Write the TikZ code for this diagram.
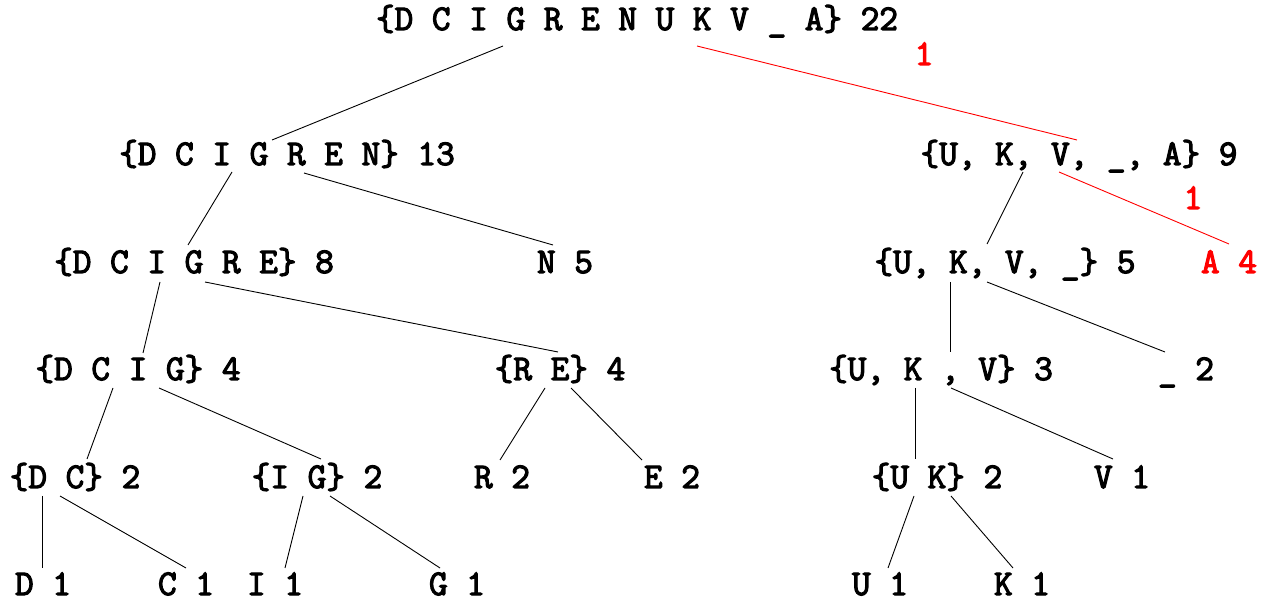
\documentclass[tikz,border=0pt]{standalone}
\usepackage{fontspec}
\newfontfamily\cmono{Latin Modern Mono}[FakeBold=3.2]
\usetikzlibrary{calc}
\begin{document}
\begin{tikzpicture}[x=1pt,y=-1pt,
  lbl/.style={font=\cmono\fontsize{36.2}{40}\selectfont, inner sep=0pt, text height=20pt, text depth=0pt, anchor=center},
  redlbl/.style={lbl, text=red},
  edge/.style={draw=black, line width=0.9pt},
  redge/.style={draw=red, line width=0.9pt}]
\useasboundingbox (0,0) rectangle (1262,601);
\node[lbl] (root) at (637,20) {\{D C I G R E N U K V \_ A\} 22};
\node[lbl] (n1) at (287,155) {\{D C I G R E N\} 13};
\node[lbl] (n2) at (1079,155) {\{U, K, V, \_, A\} 9};
\node[lbl] (n3) at (194,263) {\{D C I G R E\} 8};
\node[lbl] (n4) at (565,263) {N 5};
\node[lbl] (n5) at (1005,263) {\{U, K, V, \_\} 5};
\node[redlbl] (n6) at (1229,263) {A 4};
\node[lbl] (n7) at (138,370) {\{D C I G\} 4};
\node[lbl] (n8) at (560,370) {\{R E\} 4};
\node[lbl] (n9) at (941,370) {\{U, K , V\} 3};
\node[lbl] (n10) at (1186,370) {\_ 2};
\node[lbl] (n11) at (75,478) {\{D C\} 2};
\node[lbl] (n12) at (317,478) {\{I G\} 2};
\node[lbl] (n13) at (502,478) {R 2};
\node[lbl] (n14) at (672,478) {E 2};
\node[lbl] (n15) at (937,478) {\{U K\} 2};
\node[lbl] (n16) at (1122,478) {V 1};
\node[lbl] (n17) at (43,585) {D 1};
\node[lbl] (n18) at (186,585) {C 1};
\node[lbl] (n19) at (275,585) {I 1};
\node[lbl] (n20) at (457,585) {G 1};
\node[lbl] (n21) at (880,585) {U 1};
\node[lbl] (n22) at (1022,585) {K 1};
\node[redlbl] (w1) at (924,55) {1};
\node[redlbl] (w2) at (1193,199) {1};

\draw[edge] ($(root)+(-134,26)$) -- ($(n1)+(-15,-15)$);
\draw[redge] ($(root)+(60,26)$) -- ($(n2)+(-2,-15)$);
\draw[redge] ($(n2)+(-20,17)$) -- ($(n6)+(0,-19)$);
\draw[edge] ($(n2)+(-56,17)$) -- ($(n5)+(-18,-19)$);
\draw[edge] ($(n1)+(-55,17)$) -- ($(n3)+(-6,-18)$);
\draw[edge] ($(n1)+(17,18)$) -- ($(n4)+(-12,-18)$);
\draw[edge] ($(n3)+(-34,19)$) -- ($(n7)+(5,-17)$);
\draw[edge] ($(n3)+(11,19)$) -- ($(n8)+(-2,-18)$);
\draw[edge] ($(n7)+(-25,18)$) -- ($(n11)+(12,-19)$);
\draw[edge] ($(n7)+(21,18)$) -- ($(n12)+(4,-19)$);
\draw[edge] ($(n11)+(-33,18)$) -- ($(n17)+(-1,-17)$);
\draw[edge] ($(n11)+(-15,18)$) -- ($(n18)+(0,-17)$);
\draw[edge] ($(n12)+(-14,18)$) -- ($(n19)+(10,-17)$);
\draw[edge] ($(n12)+(13,18)$) -- ($(n20)+(-17,-17)$);
\draw[edge] ($(n8)+(-15,18)$) -- ($(n13)+(-2,-18)$);
\draw[edge] ($(n8)+(11,18)$) -- ($(n14)+(-30,-18)$);
\draw[edge] ($(n5)+(-55,19)$) -- ($(n9)+(9,-18)$);
\draw[edge] ($(n5)+(-18,19)$) -- ($(n10)+(-21,-18)$);
\draw[edge] ($(n9)+(-26,18)$) -- ($(n15)+(-22,-19)$);
\draw[edge] ($(n9)+(10,18)$) -- ($(n16)+(-9,-19)$);
\draw[edge] ($(n15)+(-23,18)$) -- ($(n21)+(8,-17)$);
\draw[edge] ($(n15)+(14,18)$) -- ($(n22)+(-9,-17)$);
\end{tikzpicture}
\end{document}
